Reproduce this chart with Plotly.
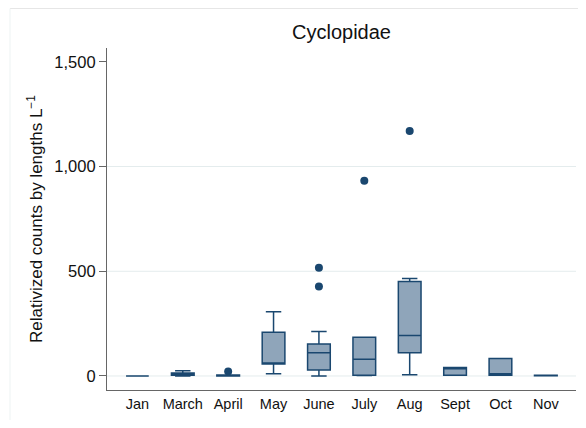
import plotly.graph_objects as go

months = ["Jan", "March", "April", "May", "June", "July", "Aug", "Sept", "Oct", "Nov"]
lower_fence = [0, 0, 0, 11, 0, 2, 6, 3, 3, 1]
q1 = [0, 3, 0, 57, 29, 3, 111, 3, 3, 1]
median = [0, 8, 2, 62, 111, 80, 193, 35, 11, 2]
q3 = [0, 14, 5, 209, 153, 185, 451, 40, 84, 4]
upper_fence = [0, 25, 5, 307, 212, 185, 465, 40, 84, 4]

outlier_month = ["April", "June", "June", "July", "Aug"]
outlier_value = [21, 517, 427, 932, 1170]

y_ticks = [0, 500, 1000, 1500]
y_tick_text = ["0", "500", "1,000", "1,500"]
grid_vals = [0, 500, 1000]

navy = "#1a476f"
fill = "#8fa5ba"

W, H = 570, 412
L, R, T, B = 99, 2, 40, 30
PW, PH = W - L - R, H - T - B

fig = go.Figure()
fig.add_trace(go.Box(
    x=months, q1=q1, median=median, q3=q3,
    lowerfence=lower_fence, upperfence=upper_fence,
    boxpoints=False, fillcolor=fill,
    line=dict(color=navy, width=1.5),
    width=0.5, whiskerwidth=0.68, showlegend=False,
))
fig.add_trace(go.Scatter(
    x=outlier_month, y=outlier_value, mode="markers",
    marker=dict(color=navy, size=8), showlegend=False,
))

for g in grid_vals:
    fig.add_shape(type="line", xref="paper", yref="y", x0=0, x1=1, y0=g, y1=g,
                  line=dict(color="#e4eced", width=1), layer="below")

# outer graph-region frame
top_y = 1 + (T - 0.5) / PH
left_x = (2 - L) / PW
fig.add_shape(type="line", xref="paper", yref="paper", x0=left_x, x1=1 + R / PW, y0=top_y, y1=top_y,
              line=dict(color="#e6e6e6", width=1))
fig.add_shape(type="line", xref="paper", yref="paper", x0=left_x, x1=left_x, y0=top_y, y1=-B / PH,
              line=dict(color="#edf3f3", width=1))

fig.add_annotation(
    text="Relativized counts by lengths L<sup>−1</sup>", textangle=-90,
    xref="paper", yref="paper", x=(27 - L) / PW, y=0.5, xanchor="center", yanchor="middle",
    showarrow=False, font=dict(size=17, color="#111"),
)

fig.update_layout(
    width=W, height=H,
    margin=dict(l=L, r=R, t=T, b=B),
    paper_bgcolor="white", plot_bgcolor="white",
    font=dict(family="Liberation Sans, Arial, sans-serif", color="#111"),
    title=dict(text="Cyclopidae", x=0.5, xref="paper", xanchor="center",
               y=1 - 24 / H, yanchor="middle", font=dict(size=20, color="#111")),
)
fig.update_xaxes(
    type="category", categoryorder="array", categoryarray=months,
    range=[-0.67, 9.665], showline=True, linecolor="#666", linewidth=1.2,
    ticks="", showgrid=False, tickfont=dict(size=14.5),
)
fig.update_yaxes(
    range=[-67, 1566], tickvals=y_ticks, ticktext=y_tick_text,
    showline=True, linecolor="#666", linewidth=1.2, ticks="outside", ticklen=7,
    tickcolor="#666", showgrid=False, zeroline=False, tickfont=dict(size=16.5),
)

fig.write_html("out.html")
